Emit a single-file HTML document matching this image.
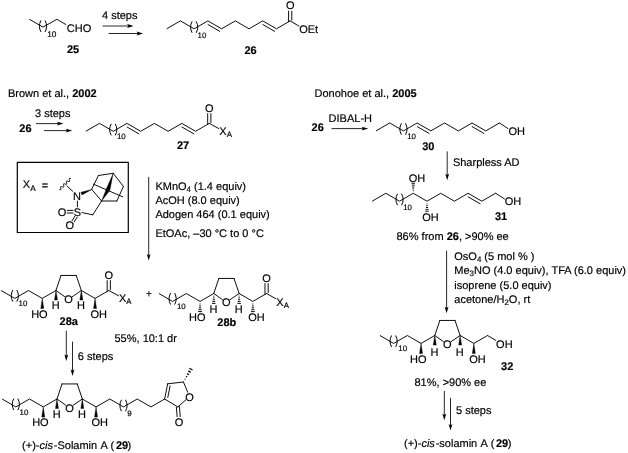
<!DOCTYPE html>
<html><head><meta charset="utf-8"><title>Scheme</title>
<style>
html,body{margin:0;padding:0;background:#fff;}
svg{display:block;will-change:transform;-webkit-font-smoothing:antialiased;}
svg text{font-family:"Liberation Sans",sans-serif;fill:#000;text-rendering:geometricPrecision;stroke:#000;stroke-width:0.18px;}
svg line,svg polyline,svg path,svg rect{stroke:#000;stroke-linecap:round;stroke-linejoin:round;}
</style></head><body>
<svg width="628" height="453" viewBox="0 0 628 453">
<polyline points="29.55,19.4 43,27.1 56.9,19.3 65.85,24.5" fill="none" stroke-width="0.95"/>
<path d="M40.8,20.8 Q37.8,26.2 40.8,31.6" fill="none" stroke-width="1"/>
<path d="M45.2,20.8 Q48.2,26.2 45.2,31.6" fill="none" stroke-width="1"/>
<text x="47.2" y="37.3" font-size="8.3">10</text>
<text x="66.8" y="31.7" font-size="11">CHO</text>
<text x="73" y="52.9" font-size="11" font-weight="bold" text-anchor="middle">25</text>
<text x="102" y="18.8" font-size="11">4 steps</text>
<line x1="103" y1="26" x2="129.7" y2="26" stroke-width="0.85"/>
<polygon points="133.6,26 127.1,27.9 128.4,26 127.1,24.1" fill="#000" stroke="none"/>
<line x1="109" y1="33.5" x2="139.2" y2="33.5" stroke-width="0.85"/>
<polygon points="143.1,33.5 136.6,35.4 137.9,33.5 136.6,31.6" fill="#000" stroke="none"/>
<polyline points="167.05,28.6 180.42,20.88 194.14,28.8 207.86,20.88 221.58,28.8 235.3,20.88 249.02,28.8 262.74,20.88 276.46,28.8 289.83,21.08" fill="none" stroke-width="0.95"/>
<path d="M191.94,21.7 Q188.94,27.1 191.94,32.5" fill="none" stroke-width="1"/>
<path d="M196.34,21.7 Q199.34,27.1 196.34,32.5" fill="none" stroke-width="1"/>
<text x="197.54" y="37.5" font-size="7.9">10</text>
<line x1="208.04" y1="24.56" x2="219.77" y2="31.33" stroke-width="0.95"/>
<line x1="262.92" y1="24.56" x2="274.65" y2="31.33" stroke-width="0.95"/>
<line x1="288.58" y1="21.68" x2="288.58" y2="11.2" stroke-width="0.95"/>
<line x1="291.78" y1="20.08" x2="291.78" y2="11.2" stroke-width="0.95"/>
<text x="290.18" y="9.3" font-size="11" text-anchor="middle">O</text>
<line x1="290.18" y1="20.88" x2="298.9" y2="26.1" stroke-width="0.95"/>
<text x="299.2" y="32.9" font-size="11">OEt</text>
<text x="250.6" y="53.7" font-size="11" font-weight="bold" text-anchor="middle">26</text>
<text x="8" y="96.6" font-size="11">Brown et al., <tspan font-weight="bold">2002</tspan></text>
<text x="19.3" y="131.9" font-size="11" font-weight="bold">26</text>
<text x="35" y="117.2" font-size="11">3 steps</text>
<line x1="36.3" y1="123.6" x2="59.6" y2="123.6" stroke-width="0.85"/>
<polygon points="63.5,123.6 57,125.5 58.3,123.6 57,121.7" fill="#000" stroke="none"/>
<line x1="44.5" y1="130.6" x2="68.4" y2="130.6" stroke-width="0.85"/>
<polygon points="72.3,130.6 65.8,132.5 67.1,130.6 65.8,128.7" fill="#000" stroke="none"/>
<polyline points="86.15,131.1 99.52,123.38 113.24,131.3 126.96,123.38 140.68,131.3 154.4,123.38 168.12,131.3 181.84,123.38 195.56,131.3 208.93,123.58" fill="none" stroke-width="0.95"/>
<path d="M111.04,124.2 Q108.04,129.6 111.04,135" fill="none" stroke-width="1"/>
<path d="M115.44,124.2 Q118.44,129.6 115.44,135" fill="none" stroke-width="1"/>
<text x="116.94" y="139.2" font-size="7.9">10</text>
<line x1="127.14" y1="127.06" x2="138.87" y2="133.83" stroke-width="0.95"/>
<line x1="182.02" y1="127.06" x2="193.75" y2="133.83" stroke-width="0.95"/>
<line x1="207.68" y1="124.18" x2="207.68" y2="113.6" stroke-width="0.95"/>
<line x1="210.88" y1="122.58" x2="210.88" y2="113.6" stroke-width="0.95"/>
<text x="209.28" y="112.4" font-size="11" text-anchor="middle">O</text>
<line x1="209.28" y1="123.38" x2="218.9" y2="128.6" stroke-width="0.95"/>
<text x="219.3" y="135.1" font-size="11">X<tspan font-size="7.9" dy="2">A</tspan><tspan dy="-2" font-size="11">&#8203;</tspan></text>
<text x="183" y="149.2" font-size="11" font-weight="bold" text-anchor="middle">27</text>
<rect x="17.3" y="162.3" width="111" height="70.2" fill="none" stroke-width="1.2"/>
<text x="22.8" y="188.2" font-size="11">X<tspan font-size="8.25" dy="2.8">A</tspan></text>
<text x="41.8" y="188.8" font-size="11">=</text>
<polyline points="59.68,189.62 59.94,189.69 60.47,189.77 60.81,189.66 60.95,189.32 60.9,188.78 60.75,188.14 60.6,187.49 60.55,186.96 60.69,186.62 61.03,186.5 61.56,186.58 62.2,186.78 62.84,186.97 63.37,187.05 63.71,186.93 63.85,186.59 63.8,186.06 63.65,185.41 63.5,184.77 63.45,184.23 63.59,183.89 63.93,183.78 64.46,183.86 65.1,184.05 65.74,184.24 66.27,184.32 66.61,184.21 66.75,183.87 66.7,183.33 66.55,182.69 66.4,182.04 66.35,181.51 66.49,181.17 66.83,181.05 67.36,181.13 68,181.32 68.64,181.52 69.17,181.6 69.51,181.48 69.65,181.14 69.6,180.61 69.45,179.96 69.3,179.32 69.25,178.78 69.39,178.44 69.73,178.33 70.26,178.41 70.52,178.48" fill="none" stroke-width="1"/>
<line x1="66.9" y1="185.9" x2="72.7" y2="191.3" stroke-width="0.95"/>
<text x="77.05" y="199.6" font-size="11" text-anchor="middle">N</text>
<polygon points="91.9,189.4 80.98,192.3 82.02,194.9" fill="#000" stroke="#000" stroke-width="0.4"/>
<line x1="91.7" y1="189.3" x2="101.6" y2="201" stroke-width="0.95"/>
<line x1="91.7" y1="189.3" x2="98.4" y2="175.5" stroke-width="0.95"/>
<line x1="98.4" y1="175.5" x2="113.2" y2="173.3" stroke-width="0.95"/>
<line x1="113.2" y1="173.3" x2="123.4" y2="186.4" stroke-width="0.95"/>
<line x1="123.4" y1="186.4" x2="116.9" y2="201" stroke-width="0.95"/>
<line x1="116.9" y1="201" x2="101.6" y2="201" stroke-width="0.95"/>
<polygon points="113.2,173.3 106.33,189.05 109.87,190.15" fill="#000" stroke="#000" stroke-width="0.4"/>
<polygon points="101.6,201 109.71,190.52 106.49,188.68" fill="#000" stroke="#000" stroke-width="0.4"/>
<line x1="93.5" y1="184.2" x2="122.8" y2="196.9" stroke-width="0.95"/>
<line x1="101.6" y1="201" x2="92.8" y2="214.8" stroke-width="0.95"/>
<line x1="92.8" y1="214.8" x2="82" y2="212.6" stroke-width="0.95"/>
<line x1="77.4" y1="201" x2="77.4" y2="206.9" stroke-width="0.95"/>
<text x="77.5" y="215.6" font-size="11" text-anchor="middle">S</text>
<text x="62" y="215.6" font-size="11" text-anchor="middle">O</text>
<line x1="67.3" y1="210.4" x2="73.1" y2="210.4" stroke-width="0.95"/>
<line x1="67.3" y1="213" x2="73.1" y2="213" stroke-width="0.95"/>
<line x1="75" y1="216" x2="72.1" y2="220.7" stroke-width="0.95"/>
<line x1="77.2" y1="217.1" x2="74.1" y2="222" stroke-width="0.95"/>
<text x="69.9" y="229.4" font-size="11" text-anchor="middle">O</text>
<line x1="148.7" y1="177.3" x2="148.7" y2="256.7" stroke-width="0.85"/>
<polygon points="148.7,260.6 146.8,254.1 148.7,255.4 150.6,254.1" fill="#000" stroke="none"/>
<text x="155.4" y="189.5" font-size="11">KMnO<tspan font-size="7.9" dy="2">4</tspan><tspan dy="-2" font-size="11">&#8203;</tspan> (1.4 equiv)</text>
<text x="155.4" y="203.8" font-size="11">AcOH (8.0 equiv)</text>
<text x="155.4" y="218" font-size="11">Adogen 464 (0.1 equiv)</text>
<text x="155.4" y="236.6" font-size="11">EtOAc, &#8211;30 &#176;C to 0 &#176;C</text>
<polyline points="1.45,290.7 14.82,298.42 28.54,290.5 42.26,298.42 55.63,290.7" fill="none" stroke-width="0.95"/>
<path d="M12.62,290.42 Q9.62,295.82 12.62,301.22" fill="none" stroke-width="1"/>
<path d="M17.02,290.42 Q20.02,295.82 17.02,301.22" fill="none" stroke-width="1"/>
<text x="18.52" y="306.12" font-size="7.9">10</text>
<line x1="55.98" y1="290.5" x2="61.03" y2="275.44" stroke-width="0.95"/>
<line x1="61.03" y1="275.44" x2="76.23" y2="275.44" stroke-width="0.95"/>
<line x1="76.23" y1="275.44" x2="81.33" y2="290.5" stroke-width="0.95"/>
<line x1="55.98" y1="290.5" x2="64.59" y2="296.59" stroke-width="0.95"/>
<line x1="81.33" y1="290.5" x2="72.31" y2="296.65" stroke-width="0.95"/>
<text x="68.43" y="303.4" font-size="11" text-anchor="middle">O</text>
<polygon points="42.26,298.42 40.76,308.62 43.76,308.62" fill="#000" stroke="#000" stroke-width="0.4"/>
<text x="47.66" y="317.82" font-size="11" text-anchor="end">HO</text>
<polygon points="55.98,290.5 54.48,300.1 57.48,300.1" fill="#000" stroke="#000" stroke-width="0.4"/>
<text x="55.78" y="309.4" font-size="11" text-anchor="middle">H</text>
<polygon points="81.33,290.5 79.83,300.1 82.83,300.1" fill="#000" stroke="#000" stroke-width="0.4"/>
<text x="81.03" y="309.4" font-size="11" text-anchor="middle">H</text>
<polygon points="95.05,298.42 93.55,308.62 96.55,308.62" fill="#000" stroke="#000" stroke-width="0.4"/>
<text x="90.45" y="317.92" font-size="11">OH</text>
<polyline points="81.68,290.7 95.05,298.42 108.42,290.7" fill="none" stroke-width="0.95"/>
<line x1="107.17" y1="291.3" x2="107.17" y2="280.6" stroke-width="0.95"/>
<line x1="110.37" y1="289.7" x2="110.37" y2="280.6" stroke-width="0.95"/>
<text x="108.77" y="278.5" font-size="11" text-anchor="middle">O</text>
<line x1="108.77" y1="290.5" x2="118.6" y2="295.8" stroke-width="0.95"/>
<text x="119" y="302.2" font-size="11">X<tspan font-size="7.9" dy="2">A</tspan><tspan dy="-2" font-size="11">&#8203;</tspan></text>
<text x="68.7" y="325.2" font-size="11" font-weight="bold" text-anchor="middle">28a</text>
<text x="148.8" y="297" font-size="10" text-anchor="middle">+</text>
<polyline points="159.25,293.7 172.62,301.42 186.34,293.5 200.06,301.42 213.43,293.7" fill="none" stroke-width="0.95"/>
<path d="M170.42,293.42 Q167.42,298.82 170.42,304.22" fill="none" stroke-width="1"/>
<path d="M174.82,293.42 Q177.82,298.82 174.82,304.22" fill="none" stroke-width="1"/>
<text x="176.92" y="309.12" font-size="7.9">10</text>
<line x1="213.78" y1="293.5" x2="218.83" y2="278.44" stroke-width="0.95"/>
<line x1="218.83" y1="278.44" x2="234.03" y2="278.44" stroke-width="0.95"/>
<line x1="234.03" y1="278.44" x2="239.13" y2="293.5" stroke-width="0.95"/>
<line x1="213.78" y1="293.5" x2="222.39" y2="299.59" stroke-width="0.95"/>
<line x1="239.13" y1="293.5" x2="230.11" y2="299.65" stroke-width="0.95"/>
<text x="226.23" y="306.4" font-size="11" text-anchor="middle">O</text>
<line x1="200.56" y1="304.02" x2="199.56" y2="304.02" stroke-width="0.95" style="stroke-linecap:butt"/>
<line x1="200.92" y1="305.92" x2="199.2" y2="305.92" stroke-width="0.95" style="stroke-linecap:butt"/>
<line x1="201.28" y1="307.82" x2="198.84" y2="307.82" stroke-width="0.95" style="stroke-linecap:butt"/>
<line x1="201.65" y1="309.72" x2="198.47" y2="309.72" stroke-width="0.95" style="stroke-linecap:butt"/>
<line x1="202.01" y1="311.62" x2="198.11" y2="311.62" stroke-width="0.95" style="stroke-linecap:butt"/>
<text x="205.46" y="320.82" font-size="11" text-anchor="end">HO</text>
<line x1="214.24" y1="296.1" x2="213.32" y2="296.1" stroke-width="0.95" style="stroke-linecap:butt"/>
<line x1="214.56" y1="297.93" x2="213" y2="297.93" stroke-width="0.95" style="stroke-linecap:butt"/>
<line x1="214.88" y1="299.75" x2="212.68" y2="299.75" stroke-width="0.95" style="stroke-linecap:butt"/>
<line x1="215.21" y1="301.57" x2="212.35" y2="301.57" stroke-width="0.95" style="stroke-linecap:butt"/>
<line x1="215.53" y1="303.4" x2="212.03" y2="303.4" stroke-width="0.95" style="stroke-linecap:butt"/>
<text x="213.58" y="313.3" font-size="11" text-anchor="middle">H</text>
<line x1="239.59" y1="296.1" x2="238.67" y2="296.1" stroke-width="0.95" style="stroke-linecap:butt"/>
<line x1="239.91" y1="297.93" x2="238.35" y2="297.93" stroke-width="0.95" style="stroke-linecap:butt"/>
<line x1="240.23" y1="299.75" x2="238.03" y2="299.75" stroke-width="0.95" style="stroke-linecap:butt"/>
<line x1="240.56" y1="301.57" x2="237.7" y2="301.57" stroke-width="0.95" style="stroke-linecap:butt"/>
<line x1="240.88" y1="303.4" x2="237.38" y2="303.4" stroke-width="0.95" style="stroke-linecap:butt"/>
<text x="238.83" y="313.3" font-size="11" text-anchor="middle">H</text>
<line x1="253.35" y1="304.02" x2="252.35" y2="304.02" stroke-width="0.95" style="stroke-linecap:butt"/>
<line x1="253.71" y1="305.92" x2="251.99" y2="305.92" stroke-width="0.95" style="stroke-linecap:butt"/>
<line x1="254.07" y1="307.82" x2="251.63" y2="307.82" stroke-width="0.95" style="stroke-linecap:butt"/>
<line x1="254.44" y1="309.72" x2="251.26" y2="309.72" stroke-width="0.95" style="stroke-linecap:butt"/>
<line x1="254.8" y1="311.62" x2="250.9" y2="311.62" stroke-width="0.95" style="stroke-linecap:butt"/>
<text x="248.25" y="320.92" font-size="11">OH</text>
<polyline points="239.48,293.7 252.85,301.42 266.22,293.7" fill="none" stroke-width="0.95"/>
<line x1="264.97" y1="294.3" x2="264.97" y2="283.6" stroke-width="0.95"/>
<line x1="268.17" y1="292.7" x2="268.17" y2="283.6" stroke-width="0.95"/>
<text x="266.57" y="282.2" font-size="11" text-anchor="middle">O</text>
<line x1="266.57" y1="293.5" x2="275.9" y2="298.8" stroke-width="0.95"/>
<text x="276.3" y="305.6" font-size="11">X<tspan font-size="7.9" dy="2">A</tspan><tspan dy="-2" font-size="11">&#8203;</tspan></text>
<text x="226.8" y="326.2" font-size="11" font-weight="bold" text-anchor="middle">28b</text>
<text x="114.5" y="342" font-size="11">55%, 10:1 dr</text>
<line x1="66.3" y1="331" x2="66.3" y2="357.1" stroke-width="0.85"/>
<polygon points="66.3,361 64.4,354.5 66.3,355.8 68.2,354.5" fill="#000" stroke="none"/>
<line x1="72.5" y1="342" x2="72.5" y2="372.1" stroke-width="0.85"/>
<polygon points="72.5,376 70.6,369.5 72.5,370.8 74.4,369.5" fill="#000" stroke="none"/>
<text x="77.8" y="359.8" font-size="11">6 steps</text>
<polyline points="2.45,399.2 15.82,406.92 29.54,399 43.26,406.92 56.63,399.2" fill="none" stroke-width="0.95"/>
<path d="M13.62,398.92 Q10.62,404.32 13.62,409.72" fill="none" stroke-width="1"/>
<path d="M18.02,398.92 Q21.02,404.32 18.02,409.72" fill="none" stroke-width="1"/>
<text x="19.52" y="414.62" font-size="7.9">10</text>
<line x1="56.98" y1="399" x2="62.03" y2="383.94" stroke-width="0.95"/>
<line x1="62.03" y1="383.94" x2="77.23" y2="383.94" stroke-width="0.95"/>
<line x1="77.23" y1="383.94" x2="82.33" y2="399" stroke-width="0.95"/>
<line x1="56.98" y1="399" x2="65.59" y2="405.09" stroke-width="0.95"/>
<line x1="82.33" y1="399" x2="73.31" y2="405.15" stroke-width="0.95"/>
<text x="69.43" y="411.9" font-size="11" text-anchor="middle">O</text>
<polygon points="43.26,406.92 41.76,417.12 44.76,417.12" fill="#000" stroke="#000" stroke-width="0.4"/>
<text x="48.66" y="426.32" font-size="11" text-anchor="end">HO</text>
<polygon points="56.98,399 55.48,408.6 58.48,408.6" fill="#000" stroke="#000" stroke-width="0.4"/>
<text x="56.78" y="418.4" font-size="11" text-anchor="middle">H</text>
<polygon points="82.33,399 80.83,408.6 83.83,408.6" fill="#000" stroke="#000" stroke-width="0.4"/>
<text x="82.03" y="418.4" font-size="11" text-anchor="middle">H</text>
<polygon points="96.05,406.92 94.55,417.12 97.55,417.12" fill="#000" stroke="#000" stroke-width="0.4"/>
<text x="91.45" y="426.42" font-size="11">OH</text>
<polyline points="82.68,399.2 95.7,406.72" fill="none" stroke-width="0.95"/>
<polyline points="96.4,406.72 109.77,399 123.49,406.92 137.21,399 150.93,406.92 164.3,399.2" fill="none" stroke-width="0.95"/>
<path d="M121.29,400.12 Q118.29,405.52 121.29,410.92" fill="none" stroke-width="1"/>
<path d="M125.69,400.12 Q128.69,405.52 125.69,410.92" fill="none" stroke-width="1"/>
<text x="127.19" y="416.32" font-size="7.9">9</text>
<line x1="164.65" y1="399" x2="167.65" y2="383.8" stroke-width="0.95"/>
<line x1="167.78" y1="397.58" x2="170.09" y2="385.91" stroke-width="0.95"/>
<line x1="167.65" y1="383.8" x2="183.45" y2="382" stroke-width="0.95"/>
<line x1="183.45" y1="382" x2="187.7" y2="392.17" stroke-width="0.95"/>
<line x1="177.85" y1="406.9" x2="185.95" y2="399.77" stroke-width="0.95"/>
<line x1="164.65" y1="399" x2="177.85" y2="406.9" stroke-width="0.95"/>
<text x="189.55" y="400.7" font-size="11" text-anchor="middle">O</text>
<line x1="176.35" y1="407.2" x2="177.15" y2="416.6" stroke-width="0.95"/>
<line x1="179.45" y1="406.6" x2="180.25" y2="416.6" stroke-width="0.95"/>
<text x="179.15" y="426.4" font-size="11" text-anchor="middle">O</text>
<line x1="184.72" y1="379.04" x2="185.39" y2="379.43" stroke-width="1.25" style="stroke-linecap:butt"/>
<line x1="185.89" y1="376.33" x2="187.17" y2="377.07" stroke-width="1.25" style="stroke-linecap:butt"/>
<line x1="187.06" y1="373.62" x2="188.95" y2="374.72" stroke-width="1.25" style="stroke-linecap:butt"/>
<line x1="188.23" y1="370.91" x2="190.73" y2="372.36" stroke-width="1.25" style="stroke-linecap:butt"/>
<line x1="189.39" y1="368.2" x2="192.51" y2="370" stroke-width="1.25" style="stroke-linecap:butt"/>
<text x="22.1" y="448.6" font-size="11">(+)-<tspan font-style="italic">cis</tspan><tspan dx="0.8">-Solamin</tspan><tspan dx="0.8"> A</tspan><tspan dx="0.4"> (</tspan><tspan dx="1.6" font-weight="bold">29</tspan><tspan dx="-0.6">)</tspan></text>
<text x="314.5" y="96.8" font-size="11">Donohoe et al., <tspan font-weight="bold">2005</tspan></text>
<text x="311.6" y="131" font-size="11" font-weight="bold">26</text>
<text x="328.6" y="122.2" font-size="11">DIBAL-H</text>
<line x1="332" y1="128.6" x2="364.3" y2="128.6" stroke-width="0.85"/>
<polygon points="368.2,128.6 361.7,130.5 363,128.6 361.7,126.7" fill="#000" stroke="none"/>
<polyline points="376.35,130.7 389.72,122.98 403.44,130.9 417.16,122.98 430.88,130.9 444.6,122.98 458.32,130.9 472.04,122.98 485.76,130.9 499.13,123.18" fill="none" stroke-width="0.95"/>
<path d="M401.24,123.6 Q398.24,129 401.24,134.4" fill="none" stroke-width="1"/>
<path d="M405.64,123.6 Q408.64,129 405.64,134.4" fill="none" stroke-width="1"/>
<text x="407.14" y="139" font-size="7.9">10</text>
<line x1="417.34" y1="126.66" x2="429.07" y2="133.43" stroke-width="0.95"/>
<line x1="472.22" y1="126.66" x2="483.95" y2="133.43" stroke-width="0.95"/>
<line x1="499.48" y1="122.98" x2="508" y2="128.6" stroke-width="0.95"/>
<text x="508.4" y="134.7" font-size="11">OH</text>
<text x="428.3" y="149.6" font-size="11" font-weight="bold" text-anchor="middle">30</text>
<line x1="447.2" y1="151.8" x2="447.2" y2="176.4" stroke-width="0.85"/>
<polygon points="447.2,180.3 445.3,173.8 447.2,175.1 449.1,173.8" fill="#000" stroke="none"/>
<text x="452.9" y="166.1" font-size="11">Sharpless AD</text>
<polyline points="372.45,201 385.82,193.28 399.54,201.2 413.26,193.28 426.98,201.2 440.7,193.28 454.42,201.2 468.14,193.28 481.86,201.2 495.23,193.48" fill="none" stroke-width="0.95"/>
<path d="M397.34,194.1 Q394.34,199.5 397.34,204.9" fill="none" stroke-width="1"/>
<path d="M401.74,194.1 Q404.74,199.5 401.74,204.9" fill="none" stroke-width="1"/>
<text x="403.24" y="209.9" font-size="7.9">10</text>
<line x1="468.32" y1="196.96" x2="480.05" y2="203.73" stroke-width="0.95"/>
<line x1="412.81" y1="190.68" x2="413.72" y2="190.68" stroke-width="0.95" style="stroke-linecap:butt"/>
<line x1="412.48" y1="188.83" x2="414.04" y2="188.83" stroke-width="0.95" style="stroke-linecap:butt"/>
<line x1="412.16" y1="186.98" x2="414.36" y2="186.98" stroke-width="0.95" style="stroke-linecap:butt"/>
<line x1="411.83" y1="185.13" x2="414.69" y2="185.13" stroke-width="0.95" style="stroke-linecap:butt"/>
<line x1="411.51" y1="183.28" x2="415.01" y2="183.28" stroke-width="0.95" style="stroke-linecap:butt"/>
<text x="408.76" y="181.8" font-size="11">OH</text>
<line x1="427.44" y1="203.8" x2="426.53" y2="203.8" stroke-width="0.95" style="stroke-linecap:butt"/>
<line x1="427.76" y1="205.65" x2="426.2" y2="205.65" stroke-width="0.95" style="stroke-linecap:butt"/>
<line x1="428.08" y1="207.5" x2="425.88" y2="207.5" stroke-width="0.95" style="stroke-linecap:butt"/>
<line x1="428.41" y1="209.35" x2="425.55" y2="209.35" stroke-width="0.95" style="stroke-linecap:butt"/>
<line x1="428.73" y1="211.2" x2="425.23" y2="211.2" stroke-width="0.95" style="stroke-linecap:butt"/>
<text x="422.28" y="221" font-size="11">OH</text>
<line x1="495.58" y1="193.28" x2="504.5" y2="198.9" stroke-width="0.95"/>
<text x="504.8" y="205" font-size="11">OH</text>
<text x="501" y="220" font-size="11" font-weight="bold" text-anchor="middle">31</text>
<text x="396.5" y="239.5" font-size="11">86% from <tspan font-weight="bold">26</tspan>, &gt;90% ee</text>
<line x1="446.6" y1="251" x2="446.6" y2="309.4" stroke-width="0.85"/>
<polygon points="446.6,313.3 444.7,306.8 446.6,308.1 448.5,306.8" fill="#000" stroke="none"/>
<text x="454.3" y="259.8" font-size="11">OsO<tspan font-size="7.9" dy="2">4</tspan><tspan dy="-2" font-size="11">&#8203;</tspan> (5 mol % )</text>
<text x="454.3" y="274.1" font-size="11">Me<tspan font-size="7.9" dy="2">3</tspan><tspan dy="-2" font-size="11">&#8203;</tspan>NO (4.0 equiv), TFA (6.0 equiv)</text>
<text x="454.3" y="288.5" font-size="11">isoprene (5.0 equiv)</text>
<text x="454.3" y="303" font-size="11">acetone/H<tspan font-size="7.9" dy="2">2</tspan><tspan dy="-2" font-size="11">&#8203;</tspan>O, rt</text>
<polyline points="380.25,335.7 393.62,343.42 407.34,335.5 421.06,343.42 434.43,335.7" fill="none" stroke-width="0.95"/>
<path d="M391.42,335.82 Q388.42,341.22 391.42,346.62" fill="none" stroke-width="1"/>
<path d="M395.82,335.82 Q398.82,341.22 395.82,346.62" fill="none" stroke-width="1"/>
<text x="398.32" y="350.92" font-size="7.9">10</text>
<line x1="434.78" y1="335.5" x2="439.83" y2="320.44" stroke-width="0.95"/>
<line x1="439.83" y1="320.44" x2="455.03" y2="320.44" stroke-width="0.95"/>
<line x1="455.03" y1="320.44" x2="460.13" y2="335.5" stroke-width="0.95"/>
<line x1="434.78" y1="335.5" x2="443.39" y2="341.59" stroke-width="0.95"/>
<line x1="460.13" y1="335.5" x2="451.11" y2="341.65" stroke-width="0.95"/>
<text x="447.23" y="348.4" font-size="11" text-anchor="middle">O</text>
<polygon points="421.06,343.42 419.56,353.62 422.56,353.62" fill="#000" stroke="#000" stroke-width="0.4"/>
<text x="426.46" y="362.82" font-size="11" text-anchor="end">HO</text>
<polygon points="434.78,335.5 433.28,345.1 436.28,345.1" fill="#000" stroke="#000" stroke-width="0.4"/>
<text x="434.58" y="355.5" font-size="11" text-anchor="middle">H</text>
<polygon points="460.13,335.5 458.63,345.1 461.63,345.1" fill="#000" stroke="#000" stroke-width="0.4"/>
<text x="459.83" y="355.5" font-size="11" text-anchor="middle">H</text>
<polygon points="473.85,343.42 472.35,353.62 475.35,353.62" fill="#000" stroke="#000" stroke-width="0.4"/>
<text x="469.25" y="362.92" font-size="11">OH</text>
<polyline points="460.48,335.7 473.85,343.42 487.22,335.7" fill="none" stroke-width="0.95"/>
<line x1="487.57" y1="335.5" x2="495.8" y2="340.4" stroke-width="0.95"/>
<text x="496.1" y="347.6" font-size="11">OH</text>
<text x="507.2" y="370" font-size="11" font-weight="bold" text-anchor="middle">32</text>
<text x="414.5" y="385.6" font-size="11">81%, &gt;90% ee</text>
<line x1="444.3" y1="391.3" x2="444.3" y2="416.3" stroke-width="0.85"/>
<polygon points="444.3,420.2 442.4,413.7 444.3,415 446.2,413.7" fill="#000" stroke="none"/>
<line x1="450.5" y1="398.3" x2="450.5" y2="426.7" stroke-width="0.85"/>
<polygon points="450.5,430.6 448.6,424.1 450.5,425.4 452.4,424.1" fill="#000" stroke="none"/>
<text x="456" y="413.6" font-size="11">5 steps</text>
<text x="404" y="446.6" font-size="11">(+)-<tspan font-style="italic">cis</tspan><tspan dx="0.8">-solamin</tspan><tspan dx="0.8"> A</tspan><tspan dx="0.4"> (</tspan><tspan dx="1.6" font-weight="bold">29</tspan><tspan dx="-0.6">)</tspan></text>
</svg>
</body></html>
